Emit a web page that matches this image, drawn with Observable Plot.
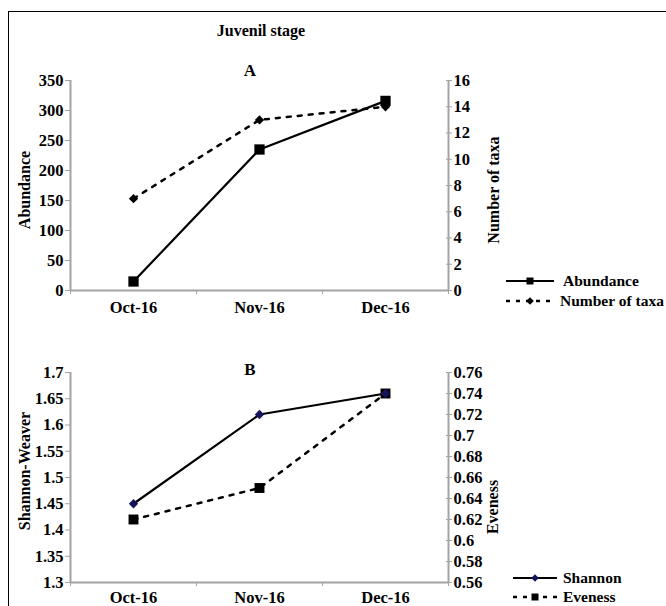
<!DOCTYPE html>
<html><head><meta charset="utf-8">
<script src="https://cdn.jsdelivr.net/npm/d3@7"></script>
<script src="https://cdn.jsdelivr.net/npm/@observablehq/plot@0.6"></script>
<style>
body{margin:0;background:#fff;}
#wrap{position:relative;width:666px;height:606px;overflow:hidden;color:#000;background:#fff;}
#wrap, #wrap div, #wrap svg, #wrap svg text{font-family:"Liberation Serif","Times New Roman",serif !important;font-weight:bold;}
.border{position:absolute;left:8px;top:11px;width:800px;height:800px;border-left:1.5px solid #000;border-top:1.5px solid #000;}
.t{position:absolute;white-space:nowrap;font-size:16px;transform:translate(-50%,-50%);line-height:1;}
.r{position:absolute;white-space:nowrap;font-size:16px;transform:translate(-50%,-50%) rotate(-90deg);line-height:1;}
.panel{position:absolute;left:0;}
.leg{position:absolute;white-space:nowrap;font-size:15.5px;line-height:1;transform:translateY(-50%);}
.legsvg{position:absolute;}
</style></head>
<body><div id="wrap"><div class="border"></div></div>
<script>
// ---- data ----
const months = ["Oct-16", "Nov-16", "Dec-16"];
const abundance = [15, 235, 316];
const taxa = [7, 13, 14];
const shannon = [1.45, 1.62, 1.66];
const eveness = [0.62, 0.65, 0.74];
const abundanceTicks = [0, 50, 100, 150, 200, 250, 300, 350];
const taxaTicks = [0, 2, 4, 6, 8, 10, 12, 14, 16];
const shannonTicks = [1.3, 1.35, 1.4, 1.45, 1.5, 1.55, 1.6, 1.65, 1.7];
const evenessTicks = [0.56, 0.58, 0.6, 0.62, 0.64, 0.66, 0.68, 0.7, 0.72, 0.74, 0.76];
const seriesNames = ["Abundance", "Number of taxa", "Shannon", "Eveness"];
const axisTitles = ["Abundance", "Number of taxa", "Shannon-Weaver", "Eveness"];

const wrap = document.getElementById("wrap");
const GRAY = "#a3a3a3";
const FONT = "Liberation Serif, Times New Roman, serif";
const style = {fontFamily: FONT, fontSize: "16.5px", fontWeight: "bold", color: "#000", background: "transparent", overflow: "visible"};
const fmt = d => String(+d.toFixed(2));

function addText(cls, txt, x, y, size) {
  const d = document.createElement("div");
  d.className = cls; d.textContent = txt;
  d.style.left = x + "px"; d.style.top = y + "px";
  if (size) d.style.fontSize = size + "px";
  wrap.appendChild(d);
}

function axesMarks(yDom, leftTicks, rightTicksMapped, rightFmt, labelPad) {
  return [
    Plot.ruleX([0, 3], {stroke: GRAY, strokeWidth: 2}),
    Plot.ruleY([yDom[0]], {stroke: GRAY, strokeWidth: 2}),
    Plot.axisY(leftTicks, {anchor: "left", tickSize: 5, tickPadding: 2, stroke: GRAY, fill: "#000", tickFormat: fmt, label: null}),
    Plot.axisY(rightTicksMapped, {anchor: "right", tickSize: 6, dx: -3, stroke: GRAY, fill: "none", label: null}),
    Plot.axisY(rightTicksMapped, {anchor: "right", tickSize: 3, tickPadding: 2, stroke: "none", fill: "#000", tickFormat: rightFmt, label: null}),
    Plot.axisX([0, 1, 2, 3], {anchor: "bottom", tickSize: 4, stroke: GRAY, fill: "none", label: null}),
    Plot.axisX([0.5, 1.5, 2.5], {anchor: "bottom", tickSize: 0, tickPadding: labelPad, stroke: "none", fill: "#000", tickFormat: d => months[Math.floor(d)], label: null})
  ];
}

// ---- Panel A ----
const taxaToY = t => t * 350 / 16;
const dataA = months.map((m, i) => ({x: i + 0.5, abundance: abundance[i], taxaY: taxaToY(taxa[i])}));
const chartA = Plot.plot({
  width: 666, height: 320, marginLeft: 70, marginRight: 218, marginTop: 80, marginBottom: 30,
  x: {domain: [0, 3], axis: null}, y: {domain: [0, 350], axis: null},
  style,
  marks: [
    ...axesMarks([0, 350], abundanceTicks, taxaTicks.map(taxaToY), d => fmt(d * 16 / 350), 11),
    Plot.line(dataA, {x: "x", y: "taxaY", stroke: "#000", strokeWidth: 2.5, strokeDasharray: "4 7"}),
    Plot.line(dataA, {x: "x", y: "abundance", stroke: "#000", strokeWidth: 2.2}),
    Plot.dot(dataA, {x: "x", y: "taxaY", symbol: "diamond2", r: 4.2, fill: "#000", stroke: "none"}),
    Plot.dot(dataA, {x: "x", y: "abundance", symbol: "square", r: 5.8, fill: "#000", stroke: "none"})
  ]
});
chartA.classList.add("panel"); chartA.style.top = "0px";
wrap.appendChild(chartA);

// ---- Panel B ----
const evToY = e => 1.3 + (e - 0.56) * 2;
const dataB = months.map((m, i) => ({x: i + 0.5, shannon: shannon[i], evY: evToY(eveness[i])}));
const chartB = Plot.plot({
  width: 666, height: 306, marginLeft: 70, marginRight: 218, marginTop: 72, marginBottom: 24,
  x: {domain: [0, 3], axis: null}, y: {domain: [1.3, 1.7], axis: null},
  style,
  marks: [
    ...axesMarks([1.3, 1.7], shannonTicks, evenessTicks.map(evToY), d => fmt((d - 1.3) / 2 + 0.56), 9),
    Plot.line(dataB, {x: "x", y: "evY", stroke: "#000", strokeWidth: 2.5, strokeDasharray: "4 7"}),
    Plot.line(dataB, {x: "x", y: "shannon", stroke: "#000", strokeWidth: 2.2}),
    Plot.dot(dataB, {x: "x", y: "evY", symbol: "square", r: 5.6, fill: "#000", stroke: "none"}),
    Plot.dot(dataB, {x: "x", y: "shannon", symbol: "diamond2", r: 4.2, fill: "#14145a", stroke: "none"})
  ]
});
chartB.classList.add("panel"); chartB.style.top = "300px";
wrap.appendChild(chartB);

// ---- titles ----
addText("t", "Juvenil stage", 261, 31, 16);
addText("t", "A", 250, 70, 17);
addText("t", "B", 250, 369, 17);
addText("r", axisTitles[0], 25, 190);
addText("r", axisTitles[1], 494, 190);
addText("r", axisTitles[2], 25, 471);
addText("r", axisTitles[3], 493, 507);

// ---- legends ----
function legendEntry(x0, x1, y, dashed, symbol, color, textX, label) {
  const NS = "http://www.w3.org/2000/svg";
  const s = document.createElementNS(NS, "svg");
  s.setAttribute("class", "legsvg");
  s.setAttribute("width", x1 - x0 + 4); s.setAttribute("height", 14);
  s.style.left = (x0 - 2) + "px"; s.style.top = (y - 7) + "px";
  const ln = document.createElementNS(NS, "line");
  ln.setAttribute("x1", 2); ln.setAttribute("x2", x1 - x0 + 2);
  ln.setAttribute("y1", 7); ln.setAttribute("y2", 7);
  ln.setAttribute("stroke", "#000"); ln.setAttribute("stroke-width", dashed ? 2.5 : 2.2);
  if (dashed) ln.setAttribute("stroke-dasharray", "4 6");
  s.appendChild(ln);
  const cx = (x1 - x0) / 2 + 2;
  const m = document.createElementNS(NS, "path");
  if (symbol === "square") m.setAttribute("d", `M${cx-3.5},3.5h7v7h-7z`);
  else m.setAttribute("d", `M${cx},3.2L${cx+3.8},7L${cx},10.8L${cx-3.8},7z`);
  m.setAttribute("fill", color);
  s.appendChild(m);
  wrap.appendChild(s);
  const d = document.createElement("div");
  d.className = "leg"; d.textContent = label;
  d.style.left = textX + "px"; d.style.top = y + "px";
  wrap.appendChild(d);
}
legendEntry(506, 554, 281, false, "square", "#000", 563, seriesNames[0]);
legendEntry(506, 554, 301, true, "diamond", "#000", 560, seriesNames[1]);
legendEntry(513, 557, 578, false, "diamond", "#14145a", 563, seriesNames[2]);
legendEntry(513, 557, 597, true, "square", "#000", 563, seriesNames[3]);
</script>
</body></html>
